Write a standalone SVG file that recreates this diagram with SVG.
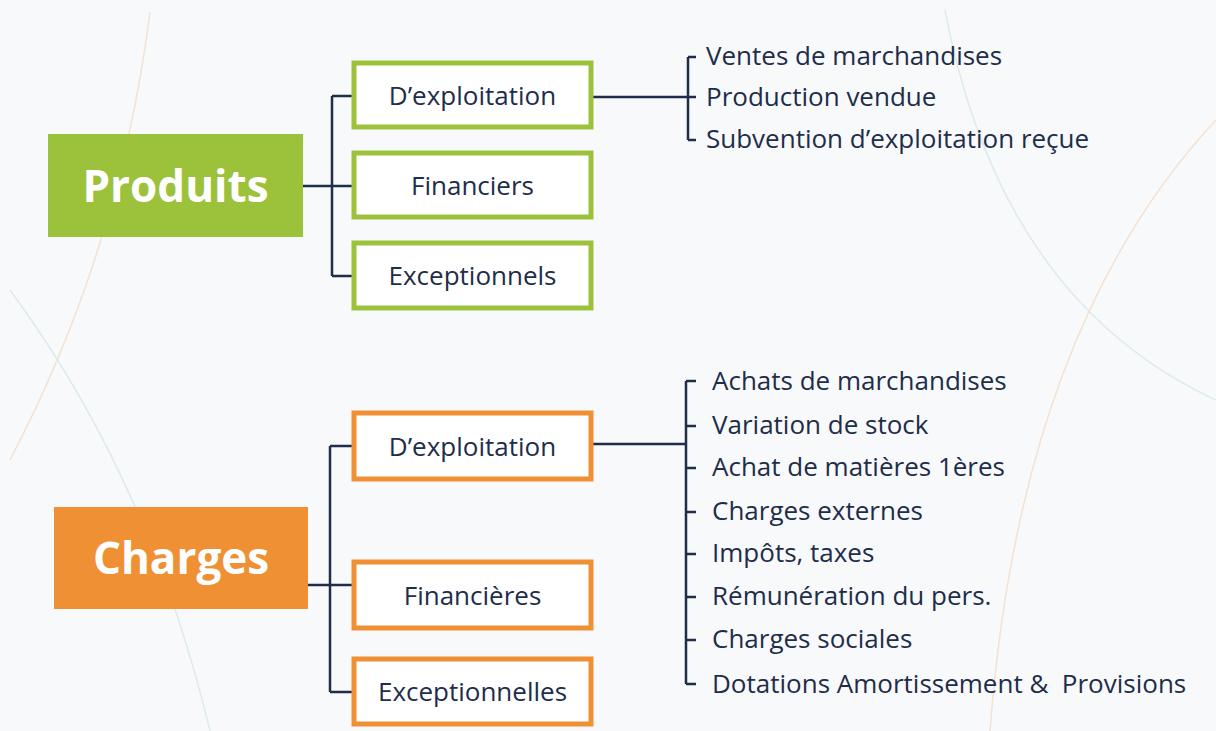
<svg xmlns="http://www.w3.org/2000/svg" width="1216" height="731" viewBox="0 0 1216 731">
<style>
.bg{fill:#f8f9fa}
.arcO{fill:none;stroke:#f5e1d0;stroke-width:1.5}
.arcT{fill:none;stroke:#dcebed;stroke-width:1.5}
.main{font-family:"Open Sans","Noto Sans",sans-serif;font-weight:700;fill:#ffffff;text-anchor:middle}
.gbox{fill:#ffffff;stroke:#9cc23c;stroke-width:5}
.obox{fill:#ffffff;stroke:#ef9035;stroke-width:5}
.lbl{font-family:"Open Sans","Noto Sans",sans-serif;font-size:26px;font-weight:500;fill:#1e2d4a;text-anchor:middle}
.item{font-family:"Open Sans","Noto Sans",sans-serif;font-size:26px;font-weight:500;fill:#1e2d4a}
.conn{fill:none;stroke:#1e2d4a;stroke-width:2.5}
</style>
<rect class="bg" x="0" y="0" width="1216" height="731"/>
<g id="decor">
<path class="arcO" d="M150 12 Q120 250 10 460"/>
<path class="arcT" d="M10 290 Q150 480 210 731"/>
<path class="arcT" d="M945 10 Q1000 300 1216 400"/>
<path class="arcO" d="M1216 120 Q1020 330 990 731"/>
</g>
<g id="connectors">
<path class="conn" d="M303 186 H332 M332 96 V276 M332 96 H352 M332 186 H352 M332 276 H352"/>
<path class="conn" d="M593 97 H688 M688 57 V140 M688 57 H696 M688 97 H696 M688 140 H696"/>
<path class="conn" d="M308 585 H352 M330 446 V692 M330 446 H352 M330 692 H352"/>
<path class="conn" d="M593 444 H686 M686 381 V684 M686 381 H696 M686 426 H696 M686 468 H696 M686 512 H696 M686 554 H696 M686 597 H696 M686 640 H696 M686 684 H696"/>
</g>
<g id="produits">
<rect x="48" y="134" width="255" height="103" fill="#9cc23c"/>
<text class="main" x="175.5" y="202" font-size="44">Produits</text>
</g>
<g id="p-exploitation">
<rect class="gbox" x="354" y="63" width="237" height="64"/>
<text class="lbl" x="472.5" y="105">D’exploitation</text>
</g>
<g id="p-financiers">
<rect class="gbox" x="354" y="153" width="237" height="64"/>
<text class="lbl" x="472.5" y="195">Financiers</text>
</g>
<g id="p-exceptionnels">
<rect class="gbox" x="354" y="243" width="237" height="65"/>
<text class="lbl" x="472.5" y="285">Exceptionnels</text>
</g>
<g id="p-items">
<text class="item" x="706" y="65">Ventes de marchandises</text>
<text class="item" x="706" y="106">Production vendue</text>
<text class="item" x="706" y="148">Subvention d’exploitation reçue</text>
</g>
<g id="charges">
<rect x="54" y="507" width="254" height="102" fill="#ef9035"/>
<text class="main" x="181" y="574" font-size="44">Charges</text>
</g>
<g id="c-exploitation">
<rect class="obox" x="354" y="413" width="237" height="66"/>
<text class="lbl" x="472.5" y="456">D’exploitation</text>
</g>
<g id="c-financieres">
<rect class="obox" x="354" y="562" width="237" height="66"/>
<text class="lbl" x="472.5" y="605">Financières</text>
</g>
<g id="c-exceptionnelles">
<rect class="obox" x="354" y="659" width="237" height="65"/>
<text class="lbl" x="472.5" y="701">Exceptionnelles</text>
</g>
<g id="c-items">
<text class="item" x="712" y="390">Achats de marchandises</text>
<text class="item" x="712" y="434">Variation de stock</text>
<text class="item" x="712" y="476">Achat de matières 1ères</text>
<text class="item" x="712" y="520">Charges externes</text>
<text class="item" x="712" y="562">Impôts, taxes</text>
<text class="item" x="712" y="605">Rémunération du pers.</text>
<text class="item" x="712" y="648">Charges sociales</text>
<text class="item" x="712" y="693" xml:space="preserve">Dotations Amortissement &amp;  Provisions</text>
</g>
</svg>
